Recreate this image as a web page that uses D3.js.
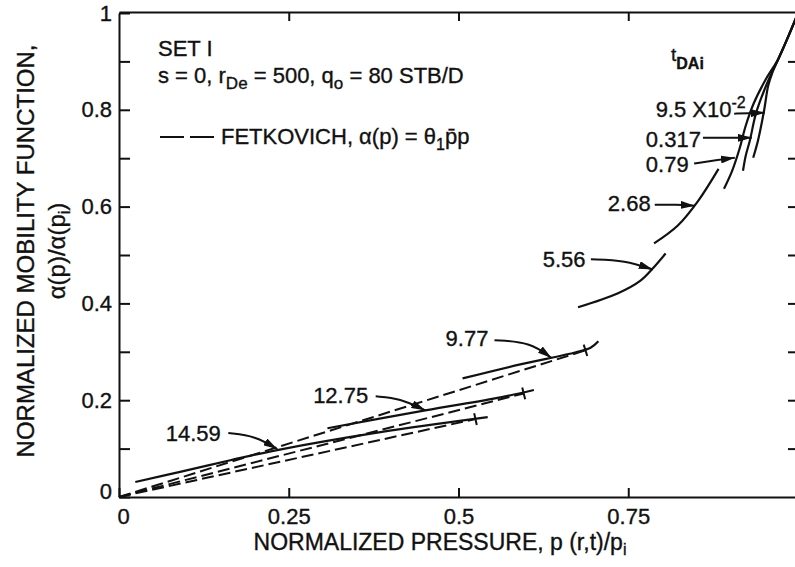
<!DOCTYPE html>
<html>
<head>
<meta charset="utf-8">
<script src="https://cdn.jsdelivr.net/npm/d3@7"></script>
<style>
  body { margin: 0; background: #fff; }
  text { font-family: "Liberation Sans", Arial, sans-serif; fill: #111; stroke: #111; stroke-width: 0.35px; }
  .axis path, .axis line { stroke: #111; stroke-width: 2; }
</style>
</head>
<body>
<div id="chart"></div>
<script>
// ---- data (normalized pressure, normalized mobility) ----
var xTickValues = [0, 0.25, 0.5, 0.75];
var yTickValues = [0, 0.1, 0.2, 0.3, 0.4, 0.5, 0.6, 0.7, 0.8, 0.9, 1];
var rightTickValues = [0.1, 0.2, 0.3, 0.4, 0.5, 0.6, 0.7, 0.8, 0.9];

// simulated alpha(p) profiles, one per t_DAi
var c_0095 = [[1.0, 1.0], [0.984, 0.946], [0.971, 0.905], [0.962, 0.876], [0.956, 0.849], [0.950, 0.798], [0.941, 0.736], [0.934, 0.701]];
var c_0317 = [[1.0, 1.0], [0.984, 0.946], [0.971, 0.905], [0.960, 0.872], [0.951, 0.843], [0.938, 0.792], [0.929, 0.736], [0.923, 0.705], [0.919, 0.674]];
var c_079  = [[1.0, 1.0], [0.984, 0.946], [0.971, 0.905], [0.953, 0.864], [0.935, 0.814], [0.923, 0.767], [0.914, 0.720], [0.903, 0.674], [0.891, 0.637]];
var c_268  = [[0.788, 0.524], [0.823, 0.561], [0.853, 0.612], [0.883, 0.678]];
var c_556  = [[0.676, 0.392], [0.735, 0.421], [0.768, 0.447], [0.786, 0.472], [0.805, 0.503]];
var c_977  = [[0.506, 0.245], [0.591, 0.274], [0.673, 0.299], [0.695, 0.309], [0.706, 0.322]];
var c_1275 = [[0.307, 0.142], [0.451, 0.179], [0.562, 0.206], [0.611, 0.221]];
var c_1459 = [[0.024, 0.031], [0.090, 0.052], [0.164, 0.076], [0.233, 0.097], [0.385, 0.134], [0.543, 0.165]];

// average pressure points (tick marks); Fetkovich line runs from origin through them
var pbar_977  = [0.687, 0.303];
var pbar_1275 = [0.596, 0.214];
var pbar_1459 = [0.525, 0.161];

var solidCurves = [c_0095, c_0317, c_079, c_268, c_556, c_977, c_1275, c_1459];
var pbarPoints = [pbar_977, pbar_1275, pbar_1459];

// labels with arrows: text, text anchor point (end), arrow tail, bend, tip
var labels = [
  {t: "14.59", at: [0.150, 0.115], arrow: [[0.161, 0.132], [0.201, 0.126], [0.233, 0.099]]},
  {t: "12.75", at: [0.367, 0.194], arrow: [[0.378, 0.208], [0.414, 0.204], [0.451, 0.179]]},
  {t: "9.77",  at: [0.544, 0.311], arrow: [[0.553, 0.324], [0.606, 0.320], [0.637, 0.287]]},
  {t: "5.56",  at: [0.687, 0.476], arrow: [[0.695, 0.491], [0.746, 0.489], [0.786, 0.470]]},
  {t: "2.68",  at: [0.783, 0.590], arrow: [[0.789, 0.604], [0.820, 0.604], [0.848, 0.602]]},
  {t: "0.79",  at: [0.839, 0.672], arrow: [[0.847, 0.689], [0.880, 0.696], [0.907, 0.701]]},
  {t: "0.317", at: [0.857, 0.724], arrow: [[0.860, 0.742], [0.900, 0.742], [0.932, 0.742]]},
  {t: "9.5 X10", sup: "-2", at: [0.923, 0.786], arrow: [[0.906, 0.792], [0.930, 0.793], [0.951, 0.794]]}
];

var width = 795, height = 567;

var svg = d3.select("#chart").append("svg")
    .attr("width", width)
    .attr("height", height);

var x = d3.scaleLinear().domain([0, 1]).range([119, 798]);
var y = d3.scaleLinear().domain([0, 1]).range([497, 13]);

var fmt = function (d) {
    var r = Math.round(d * 10);
    if (r % 2 !== 0) return "";
    return d3.format("")(+(d.toFixed(1)));
};

// left axis
svg.append("g")
    .attr("class", "axis")
    .attr("transform", "translate(119,0)")
    .call(d3.axisLeft(y).tickValues(yTickValues).tickSizeInner(-11).tickSizeOuter(0).tickPadding(7).tickFormat(fmt))
    .call(function (g) {
        g.selectAll("text").style("font-size", "22px");
        g.selectAll(".tick").filter(function (d) { return d === 0; }).select("text").attr("dy", "0.05em");
    });

// right axis (ticks only)
svg.append("g")
    .attr("class", "axis")
    .attr("transform", "translate(798,0)")
    .call(d3.axisRight(y).tickValues(rightTickValues).tickSizeInner(-10).tickSizeOuter(0).tickFormat(""));

// bottom axis
svg.append("g")
    .attr("class", "axis")
    .attr("transform", "translate(0,497)")
    .call(d3.axisBottom(x).tickValues(xTickValues).tickSizeInner(-9).tickSizeOuter(0).tickPadding(11).tickFormat(d3.format("")))
    .call(function (g) {
        g.selectAll("text").style("font-size", "22px");
        g.selectAll(".tick").filter(function (d) { return d === 0; }).select("text").attr("x", 4);
    });

// top axis
svg.append("g")
    .attr("class", "axis")
    .attr("transform", "translate(0,12)")
    .call(d3.axisTop(x).tickValues([0.25, 0.5, 0.75]).tickSizeInner(-9).tickSizeOuter(0).tickFormat(""));

// axis titles
var xt = svg.append("text")
    .attr("x", 440)
    .attr("y", 550)
    .attr("text-anchor", "middle")
    .style("font-size", "23px");
xt.append("tspan").text("NORMALIZED PRESSURE, p (r,t)/p");
xt.append("tspan").attr("dy", 5).style("font-size", "16px").text("i");

var ytitle = svg.append("g").attr("transform", "translate(0,251) rotate(-90)");
ytitle.append("text")
    .attr("x", 0).attr("y", 34)
    .attr("text-anchor", "middle")
    .style("font-size", "24px")
    .text("NORMALIZED MOBILITY FUNCTION,");
var yt2 = ytitle.append("text")
    .attr("x", 0).attr("y", 65)
    .attr("text-anchor", "middle")
    .style("font-size", "24px");
yt2.append("tspan").text("\u03B1(p)/\u03B1(p");
yt2.append("tspan").attr("dy", 5).style("font-size", "16px").text("i");
yt2.append("tspan").attr("dy", -5).text(")");

// curves
var line = d3.line()
    .x(function (d) { return x(d[0]); })
    .y(function (d) { return y(d[1]); })
    .curve(d3.curveCatmullRom.alpha(0.5));

svg.append("g").selectAll("path.solid")
    .data(solidCurves)
    .enter().append("path")
    .attr("class", "solid")
    .attr("d", line)
    .attr("fill", "none")
    .attr("stroke", "#111")
    .attr("stroke-width", 2.2);

// Fetkovich straight lines through origin
svg.append("g").selectAll("line.fet")
    .data(pbarPoints)
    .enter().append("line")
    .attr("class", "fet")
    .attr("x1", x(0)).attr("y1", y(0))
    .attr("x2", function (d) { return x(d[0]); })
    .attr("y2", function (d) { return y(d[1]); })
    .attr("stroke", "#111")
    .attr("stroke-width", 2)
    .attr("stroke-dasharray", "12,5");

// pbar tick marks (perpendicular to the line)
svg.append("g").selectAll("line.pbar")
    .data(pbarPoints)
    .enter().append("line")
    .attr("class", "pbar")
    .each(function (d) {
        var px = x(d[0]), py = y(d[1]);
        var dx = px - x(0), dy = py - y(0);
        var len = Math.sqrt(dx * dx + dy * dy);
        var nx = -dy / len * 6, ny = dx / len * 6;
        d3.select(this)
            .attr("x1", px - nx).attr("y1", py - ny)
            .attr("x2", px + nx).attr("y2", py + ny);
    })
    .attr("stroke", "#111")
    .attr("stroke-width", 2);

// arrow heads
svg.append("defs").append("marker")
    .attr("id", "arr")
    .attr("markerUnits", "userSpaceOnUse")
    .attr("viewBox", "0 0 14 8")
    .attr("refX", 14).attr("refY", 4)
    .attr("markerWidth", 14).attr("markerHeight", 8)
    .attr("orient", "auto")
    .append("path")
    .attr("d", "M0,0 L14,4 L0,8 Z")
    .attr("fill", "#111");

var arrowLine = d3.line()
    .x(function (d) { return x(d[0]); })
    .y(function (d) { return y(d[1]); })
    .curve(d3.curveBasis);

var lab = svg.append("g").selectAll("g.lab")
    .data(labels)
    .enter().append("g").attr("class", "lab");

lab.append("path")
    .attr("d", function (d) { return arrowLine(d.arrow); })
    .attr("fill", "none")
    .attr("stroke", "#111")
    .attr("stroke-width", 2)
    .attr("marker-end", "url(#arr)");

lab.append("text")
    .attr("x", function (d) { return x(d.at[0]); })
    .attr("y", function (d) { return y(d.at[1]); })
    .attr("text-anchor", "end")
    .style("font-size", "22px")
    .each(function (d) {
        var t = d3.select(this);
        t.append("tspan").text(d.t);
        if (d.sup) t.append("tspan").attr("dy", -9).style("font-size", "16px").text(d.sup);
    });

// t_DAi heading
var tdai = svg.append("text")
    .attr("x", 671).attr("y", 61)
    .style("font-size", "19px");
tdai.append("tspan").text("t");
tdai.append("tspan").attr("dy", 8).style("font-size", "16px").style("font-weight", "bold").text("DAi");

// info block
svg.append("text")
    .attr("x", 158).attr("y", 56)
    .style("font-size", "22px")
    .text("SET I");

var info = svg.append("text")
    .attr("x", 158).attr("y", 83)
    .style("font-size", "22px");
info.append("tspan").text("s = 0, r");
info.append("tspan").attr("dy", 6).style("font-size", "17px").text("De");
info.append("tspan").attr("dy", -6).text(" = 500, q");
info.append("tspan").attr("dy", 6).style("font-size", "17px").text("o");
info.append("tspan").attr("dy", -6).text(" = 80 STB/D");

svg.append("line")
    .attr("x1", 160).attr("x2", 214)
    .attr("y1", 137).attr("y2", 137)
    .attr("stroke", "#111").attr("stroke-width", 2)
    .attr("stroke-dasharray", "24,6");

var fet = svg.append("text")
    .attr("x", 221).attr("y", 144)
    .style("font-size", "22px");
fet.append("tspan").text("FETKOVICH, \u03B1(p) = \u03B8");
fet.append("tspan").attr("dy", 6).style("font-size", "16px").text("1");
fet.append("tspan").attr("dy", -6).text("p\u0304p");
</script>
</body>
</html>
